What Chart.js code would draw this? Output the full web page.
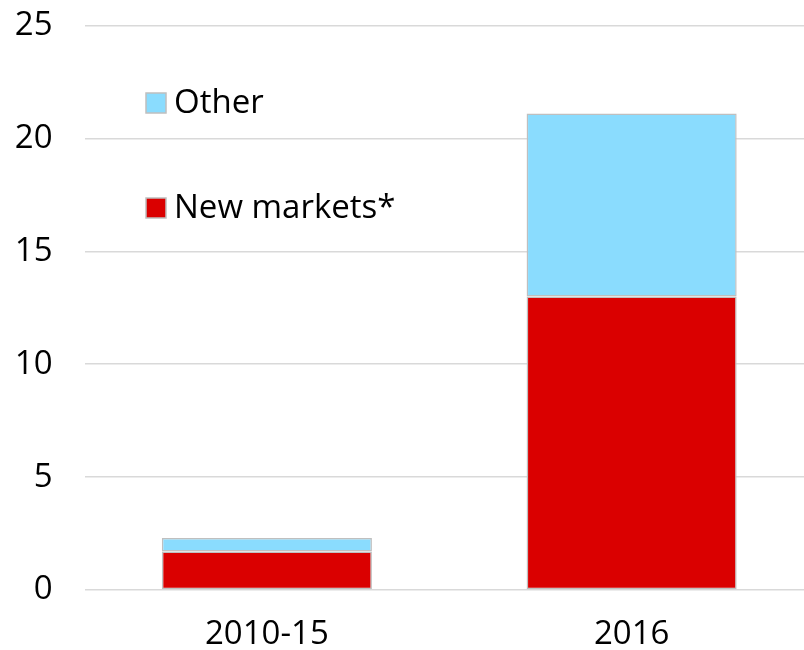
<!DOCTYPE html>
<html>
<head>
<meta charset="utf-8">
<script src="https://cdn.jsdelivr.net/npm/chart.js@4/dist/chart.umd.min.js"></script>
<style>
html,body{margin:0;padding:0;background:#fff;overflow:hidden;}
#wrap{position:relative;width:814px;height:650px;}
</style>
</head>
<body>
<div id="wrap"><canvas id="c" width="814" height="650"></canvas></div>
<script>
const categories = ["2010-15", "2016"];
const newMarkets = [1.7, 13.0];
const other = [0.6, 8.1];
const seriesNames = ["New markets*", "Other"];
const yTicks = [0, 5, 10, 15, 20, 25];

const FONT = "'Open Sans', 'Liberation Sans', sans-serif";

const legendPlugin = {
  id: 'insideLegend',
  afterDraw(chart) {
    const ctx = chart.ctx;
    const ds = chart.data.datasets;
    const order = [1, 0];
    const ys = [103, 208];
    ctx.save();
    ctx.font = "33px " + FONT;
    ctx.textBaseline = 'middle';
    order.forEach((idx, i) => {
      const d = ds[idx];
      const y = ys[i];
      ctx.fillStyle = d.backgroundColor;
      ctx.fillRect(146, y - 10, 20, 20);
      ctx.strokeStyle = '#bfbfbf';
      ctx.lineWidth = 1.5;
      ctx.strokeRect(146, y - 10, 20, 20);
      ctx.fillStyle = '#000';
      ctx.fillText(d.label, 174, y + 1);
    });
    ctx.restore();
  }
};

new Chart(document.getElementById('c'), {
  type: 'bar',
  data: {
    labels: categories,
    datasets: [
      { label: seriesNames[0], data: newMarkets, backgroundColor: '#da0000', borderColor: '#bfbfbf', borderWidth: 1.5, borderSkipped: false },
      { label: seriesNames[1], data: other, backgroundColor: '#8adcfe', borderColor: '#bfbfbf', borderWidth: 1.5, borderSkipped: false }
    ]
  },
  options: {
    responsive: false,
    animation: false,
    layout: { padding: { top: 25.5, left: 0, right: 0, bottom: 0 } },
    datasets: { bar: { categoryPercentage: 1.0, barPercentage: 0.576 } },
    plugins: { legend: { display: false }, tooltip: { enabled: false } },
    scales: {
      x: {
        stacked: true,
        grid: { display: false, drawTicks: false },
        border: { display: false },
        ticks: { color: '#000', font: { family: FONT, size: 33 }, padding: 25, maxRotation: 0 },
        afterFit(s) { s.height = 60; s.paddingLeft = 0; s.paddingRight = 0; }
      },
      y: {
        stacked: true,
        min: 0, max: 25,
        afterBuildTicks(s) { s.ticks = yTicks.map(v => ({ value: v })); },
        grid: { color: '#d9d9d9', lineWidth: 1.5, drawTicks: false },
        border: { display: false },
        ticks: { color: '#000', font: { family: FONT, size: 33 }, padding: 32 },
        afterFit(s) { s.width = 84.5; s.paddingTop = 0; s.paddingBottom = 0; }
      }
    }
  },
  plugins: [legendPlugin]
});
</script>
</body>
</html>
